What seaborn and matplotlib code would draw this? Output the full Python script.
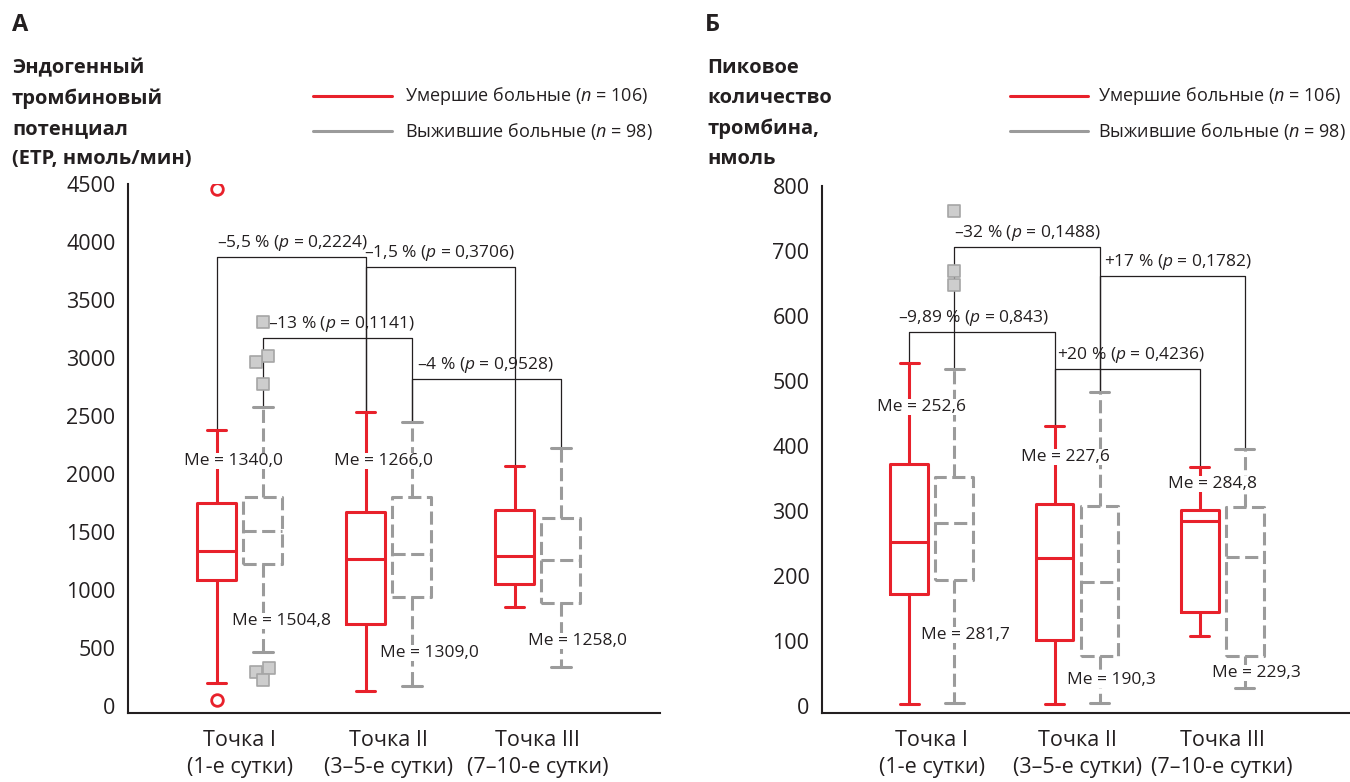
import pandas as pd
import matplotlib.pyplot as plt
import seaborn as sns
from matplotlib.lines import Line2D
from matplotlib.colors import to_hex

sns.set_theme(style="white")
plt.rcParams['font.family'] = ['Open Sans', 'DejaVu Sans']
plt.rcParams['mathtext.fontset'] = 'custom'
plt.rcParams['mathtext.it'] = 'Open Sans:italic'
plt.rcParams['mathtext.rm'] = 'Open Sans'

RED = "#e8212b"
GRAY = "#9b9b9b"
INK = "#231f20"

points = ["Точка I\n(1-е сутки)", "Точка II\n(3–5-е сутки)", "Точка III\n(7–10-е сутки)"]
groups = ["Умершие больные", "Выжившие больные"]
legend_labels = ["Умершие больные ($n$ = 106)", "Выжившие больные ($n$ = 98)"]

# five-number summaries per point: low whisker, Q1, median, Q3, high whisker
etp_dead = [[201, 1084, 1340, 1747, 2382],
            [129, 704, 1266, 1672, 2537],
            [851, 1049, 1290, 1690, 2071]]
etp_alive = [[468, 1221, 1504.8, 1799, 2580],
             [175, 937, 1309, 1799, 2446],
             [339, 885, 1258, 1618, 2227]]
etp_out_dead = [4457, 52]
etp_out_alive = [3308, 3017, 2968, 2773, 325, 296, 224]

peak_dead = [[3, 172, 252.6, 372, 527],
             [3, 102, 227.6, 311, 431],
             [108, 144, 284.8, 302, 368]]
peak_alive = [[5, 194, 281.7, 353, 518],
              [5, 77, 190.3, 307, 483],
              [28, 77, 229.3, 306, 395]]
peak_out_alive = [762, 669, 647]

etp_me = ["1340,0", "1504,8", "1266,0", "1309,0", "1258,0"]
peak_me = ["252,6", "281,7", "227,6", "190,3", "284,8", "229,3"]

etp_cmp = ["–5,5 % ($p$ = 0,2224)", "–1,5 % ($p$ = 0,3706)",
           "–13 % ($p$ = 0,1141)", "–4 % ($p$ = 0,9528)"]
peak_cmp = ["–32 % ($p$ = 0,1488)", "+17 % ($p$ = 0,1782)",
            "–9,89 % ($p$ = 0,843)", "+20 % ($p$ = 0,4236)"]

WIDTH = 0.62
OFF = WIDTH / 4


def long_df(dead, alive):
    rows = []
    for g, summ in zip(groups, [dead, alive]):
        for p, vals in zip(points, summ):
            for v in vals:
                rows.append({"point": p, "group": g, "value": v})
    return pd.DataFrame(rows)


def draw_boxes(ax, dead, alive):
    df = long_df(dead, alive)
    sns.boxplot(data=df, x="point", y="value", hue="group", order=points,
                hue_order=groups, palette=[RED, GRAY], fill=False,
                whis=(0, 100), width=WIDTH, gap=0.16, linewidth=2.2,
                showfliers=False, legend=False, ax=ax)
    for ln in ax.lines:
        if to_hex(ln.get_color()) != GRAY:
            continue
        xs, ys = ln.get_xdata(), ln.get_ydata()
        is_cap = len(xs) == 2 and ys[0] == ys[1] and abs(xs[1] - xs[0]) < 0.15
        if not is_cap:
            ln.set_linestyle((0, (4.3, 1.8)))


def bracket(ax, x1, x2, y1, y2, h, label, dx):
    ax.plot([x1, x1, x2, x2], [y1, h, h, y2], color=INK, lw=0.9, zorder=1)
    ax.annotate(label, xy=(x1, h), xytext=(dx, 3), textcoords="offset points",
                ha="left", va="bottom", fontsize=12.5, color=INK)


def style_axes(ax, ylim, xlim, yticks):
    ax.set_xlim(*xlim)
    ax.set_ylim(*ylim)
    ax.set_yticks(yticks)
    ax.set_xlabel("")
    ax.set_ylabel("")
    for s in ["top", "right"]:
        ax.spines[s].set_visible(False)
    for s in ["left", "bottom"]:
        ax.spines[s].set_color(INK)
        ax.spines[s].set_linewidth(1.5)
    ax.spines["left"].set_bounds(ylim[0], yticks[-1])
    ax.tick_params(axis="both", direction="in", length=7, width=1.5,
                   colors=INK, labelsize=15.5)
    ax.tick_params(axis="y", pad=9)
    ax.tick_params(axis="x", pad=12)
    for t in ax.get_xticklabels():
        t.set_linespacing(1.42)


def me_label(ax, x, y, text):
    ax.text(x, y, "Me = " + text, ha="left", va="center", fontsize=12.5,
            color=INK, zorder=4,
            bbox=dict(facecolor="white", edgecolor="none", pad=0))


fig = plt.figure(figsize=(13.5, 7.82), dpi=100)
W, H = 1350, 782


def fx(px):
    return px / W


def fy(py):
    return 1 - py / H


# ---------------- Panel A ----------------
axA = fig.add_axes([fx(128), fy(713), fx(660) - fx(128), fy(184) - fy(713)])
draw_boxes(axA, etp_dead, etp_alive)
axA.scatter([0 - OFF] * len(etp_out_dead), etp_out_dead, marker="o", s=70,
            facecolor="white", edgecolor=RED, linewidth=2, zorder=5)
jitA = [0, 0.035, -0.045, 0, 0.04, -0.045, 0]
axA.scatter([0 + OFF + j for j in jitA], etp_out_alive, marker="s", s=70,
            facecolor="#cdcdcd", edgecolor="#a5a5a5", linewidth=1.2, zorder=5)

topA_dead = [b[4] for b in etp_dead]
topA_alive = [b[4] for b in etp_alive]
bracket(axA, 0 - OFF, 1 - OFF, topA_dead[0], topA_dead[1], 3870, etp_cmp[0], 0)
bracket(axA, 1 - OFF, 2 - OFF, topA_dead[1], topA_dead[2], 3784, etp_cmp[1], -1)
bracket(axA, 0 + OFF, 1 + OFF, topA_alive[0], topA_alive[1], 3175, etp_cmp[2], 4)
bracket(axA, 1 + OFF, 2 + OFF, topA_alive[1], topA_alive[2], 2821, etp_cmp[3], 4)

me_label(axA, -0.377, 2112, etp_me[0])
me_label(axA, -0.054, 733, etp_me[1])
me_label(axA, 0.633, 2112, etp_me[2])
me_label(axA, 0.943, 457, etp_me[3])
me_label(axA, 1.933, 560, etp_me[4])

style_axes(axA, (-60, 4500), (-0.75, 2.82), list(range(0, 4501, 500)))

# ---------------- Panel B ----------------
axB = fig.add_axes([fx(822), fy(713), fx(1350) - fx(822), fy(186) - fy(713)])
draw_boxes(axB, peak_dead, peak_alive)
axB.scatter([0 + OFF] * len(peak_out_alive), peak_out_alive, marker="s", s=70,
            facecolor="#cdcdcd", edgecolor="#a5a5a5", linewidth=1.2, zorder=5)

topB_dead = [b[4] for b in peak_dead]
topB_alive = [b[4] for b in peak_alive]
bracket(axB, 0 + OFF, 1 + OFF, topB_alive[0], topB_alive[1], 706, peak_cmp[0], 0)
bracket(axB, 1 + OFF, 2 + OFF, topB_alive[1], topB_alive[2], 661.5, peak_cmp[1], 3)
bracket(axB, 0 - OFF, 1 - OFF, topB_dead[0], topB_dead[1], 575, peak_cmp[2], -8)
bracket(axB, 1 - OFF, 2 - OFF, topB_dead[1], topB_dead[2], 518.5, peak_cmp[3], 2)

me_label(axB, -0.377, 460, peak_me[0])
me_label(axB, -0.074, 109, peak_me[1])
me_label(axB, 0.616, 383, peak_me[2])
me_label(axB, 0.933, 40, peak_me[3])
me_label(axB, 1.623, 342, peak_me[4])
me_label(axB, 1.926, 51, peak_me[5])

style_axes(axB, (-10.8, 800), (-0.757, 2.88), list(range(0, 801, 100)))

# ---------------- headers and legends ----------------
fig.text(fx(12), fy(25), "А", fontsize=17, fontweight="bold", color=INK, va="center")
fig.text(fx(705), fy(25), "Б", fontsize=17, fontweight="bold", color=INK, va="center")

fig.text(fx(12), fy(58), "Эндогенный\nтромбиновый\nпотенциал\n(ETP, нмоль/мин)",
         fontsize=14.5, fontweight="bold", color=INK, va="top", linespacing=1.68)
fig.text(fx(707), fy(58), "Пиковое\nколичество\nтромбина,\nнмоль",
         fontsize=14.5, fontweight="bold", color=INK, va="top", linespacing=1.68)

for x0, x1, tx in [(313, 392, 405), (1010, 1088, 1098)]:
    for color, py, lab in [(RED, 96, legend_labels[0]), (GRAY, 131, legend_labels[1])]:
        fig.add_artist(Line2D([fx(x0), fx(x1)], [fy(py), fy(py)], color=color, lw=2.2))
        fig.text(fx(tx), fy(py), lab, fontsize=13, color=INK, va="center")

fig.savefig("out.png", dpi=100)
